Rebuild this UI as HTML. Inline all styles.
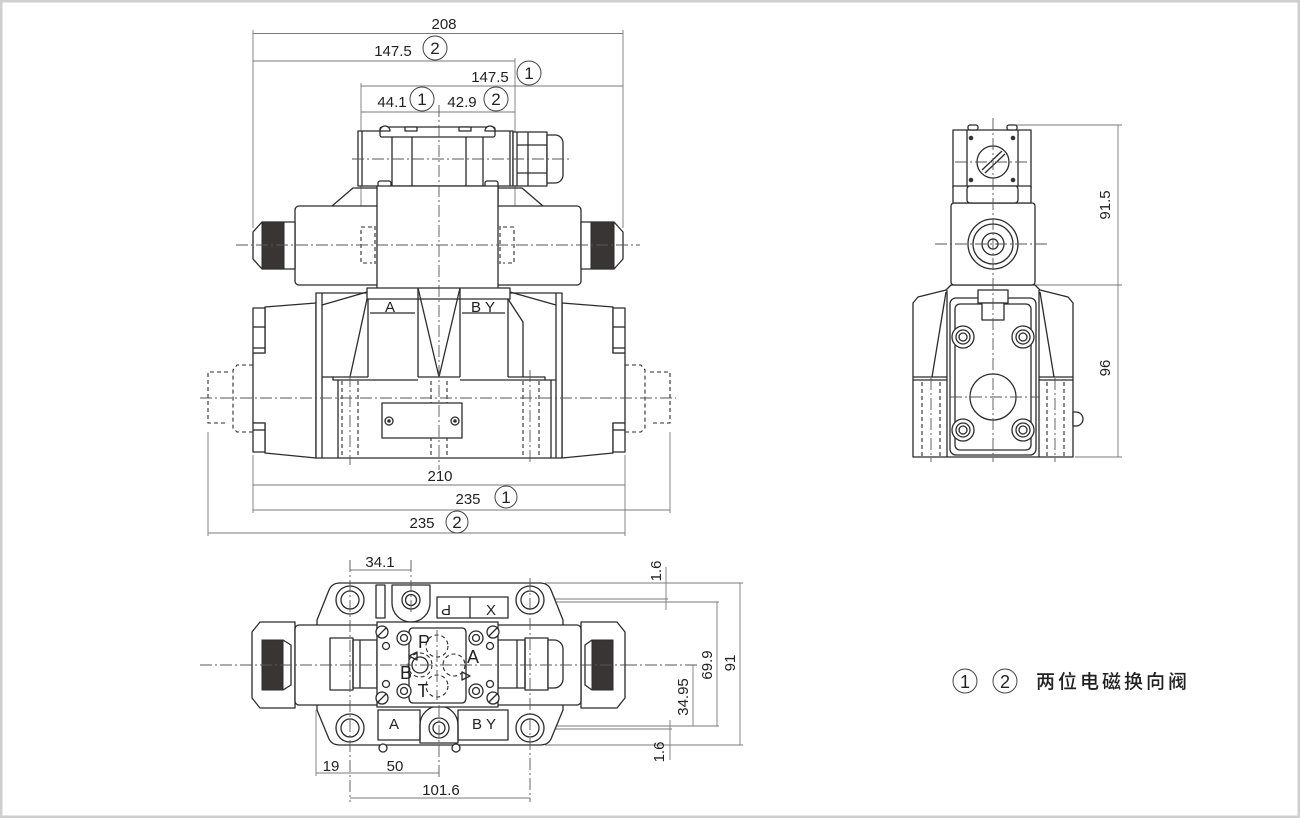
<!DOCTYPE html>
<html><head><meta charset="utf-8"><style>
html,body{margin:0;padding:0;background:#fff;}
svg{display:block;}
.o{fill:none;stroke:#2b2b2b;stroke-width:1.3;stroke-linejoin:round;}
.w{fill:#fff;stroke:#2b2b2b;stroke-width:1.3;stroke-linejoin:round;}
.d{fill:none;stroke:#7a7a7a;stroke-width:0.9;}
.c{fill:none;stroke:#555;stroke-width:0.9;stroke-dasharray:12 3 2 3;}
.h{fill:none;stroke:#2b2b2b;stroke-width:1.1;stroke-dasharray:4 3;}
.k{fill:#3a3535;stroke:#2b2b2b;stroke-width:1;}
text{font-family:"Liberation Sans",Arial,sans-serif;font-size:15px;fill:#222;}
.t{text-anchor:middle;}
.ci{fill:#fff;stroke:#444;stroke-width:1;}
.n{font-size:17px;}
</style></head><body>
<svg width="1300" height="818" viewBox="0 0 1300 818" xmlns="http://www.w3.org/2000/svg">
<rect x="1" y="1" width="1298" height="816" fill="#fff" stroke="#cfcfcf" stroke-width="3"/>

<!-- ================= TOP FRONT VIEW ================= -->
<line class="d" x1="253" y1="33.5" x2="623" y2="33.5"/>
<line class="d" x1="253" y1="61" x2="515" y2="61"/>
<line class="d" x1="361" y1="86" x2="623" y2="86"/>
<line class="d" x1="361" y1="112" x2="515" y2="112"/>
<line class="d" x1="253" y1="30" x2="253" y2="228"/>
<line class="d" x1="623" y1="30" x2="623" y2="228"/>
<line class="d" x1="361" y1="83" x2="361" y2="260"/>
<line class="d" x1="515" y1="58" x2="515" y2="262"/>
<text class="t" x="444" y="29">208</text>
<text class="t" x="393" y="56">147.5</text>
<circle class="ci" cx="435" cy="48" r="12"/><text class="t n" x="435" y="54">2</text>
<text class="t" x="490" y="82">147.5</text>
<circle class="ci" cx="529" cy="73" r="12"/><text class="t n" x="529" y="79">1</text>
<text class="t" x="392" y="107">44.1</text>
<circle class="ci" cx="422" cy="99" r="12"/><text class="t n" x="422" y="105">1</text>
<text class="t" x="462" y="107">42.9</text>
<circle class="ci" cx="496" cy="99" r="12"/><text class="t n" x="496" y="105">2</text>

<polyline class="o" points="332,206 353,188 377,188"/>
<polyline class="o" points="498,188 522,188 543,206"/>
<rect class="w" x="295" y="206" width="286" height="79" rx="4"/>
<polygon class="w" points="253,232 262,222 295,222 295,269 262,269 253,259"/>
<rect class="k" x="262" y="222" width="22" height="47"/>
<polygon class="w" points="623,232 614,222 581,222 581,269 614,269 623,259"/>
<rect class="k" x="591" y="222" width="23" height="47"/>
<path class="h" d="M372,227 h-11 v36 h11 M375,226 v38"/>
<path class="h" d="M503,227 h11 v36 h-11 M500,226 v38"/>
<rect class="w" x="358" y="131" width="155" height="55"/>
<line class="o" x1="362" y1="131" x2="362" y2="186"/>
<line class="o" x1="510" y1="131" x2="510" y2="186"/>
<rect class="w" x="513" y="132" width="34" height="54"/>
<line class="o" x1="517" y1="132" x2="517" y2="186"/>
<line class="o" x1="528" y1="132" x2="528" y2="186"/>
<line class="o" x1="517" y1="145" x2="547" y2="145"/>
<line class="o" x1="517" y1="173" x2="547" y2="173"/>
<path class="w" d="M547,135 h8 a8,8 0 0 1 8,8 v32 a8,8 0 0 1 -8,8 h-8 z"/>
<rect class="w" x="380" y="127" width="115" height="10" rx="2"/>
<path class="w" d="M380,131 a5,5 0 0 1 10,0 z"/>
<path class="w" d="M485,131 a5,5 0 0 1 10,0 z"/>
<rect class="w" x="405" y="127" width="12" height="4"/>
<rect class="w" x="459" y="127" width="12" height="4"/>
<line class="o" x1="392" y1="137" x2="392" y2="206"/>
<line class="o" x1="412" y1="137" x2="412" y2="206"/>
<line class="o" x1="466" y1="137" x2="466" y2="206"/>
<line class="o" x1="483" y1="137" x2="483" y2="206"/>
<rect class="w" x="378" y="181" width="13" height="25" rx="2"/>
<rect class="w" x="485" y="181" width="13" height="25" rx="2"/>
<rect class="w" x="377" y="186" width="121" height="103"/>

<path class="w" d="M265,307 L316,303 L316,458 L265,453 L265,423 L253,423 L253,353 L265,353 Z"/>
<path class="w" d="M253,308 h12 v45 h-12 z M253,423 h12 v29 h-12 z"/>
<line class="o" x1="253" y1="327" x2="265" y2="327"/>
<line class="o" x1="253" y1="348" x2="265" y2="348"/>
<line class="o" x1="253" y1="430" x2="265" y2="430"/>
<path class="w" d="M613,307 L562,303 L562,458 L613,453 L613,423 L625,423 L625,353 L613,353 Z"/>
<path class="w" d="M625,308 h-12 v45 h12 z M625,423 h-12 v29 h12 z"/>
<line class="o" x1="613" y1="327" x2="625" y2="327"/>
<line class="o" x1="613" y1="348" x2="625" y2="348"/>
<line class="o" x1="613" y1="430" x2="625" y2="430"/>
<rect class="w" x="316" y="293" width="246" height="165"/>
<line class="o" x1="322" y1="293" x2="322" y2="458"/>
<line class="o" x1="556" y1="293" x2="556" y2="458"/>
<line class="o" x1="322" y1="305" x2="367" y2="292"/>
<line class="o" x1="556" y1="305" x2="510" y2="292"/>
<rect class="w" x="367" y="288" width="143" height="11"/>
<line class="o" x1="367" y1="299" x2="350" y2="377"/>
<line class="o" x1="368" y1="299" x2="368" y2="377"/>
<line class="o" x1="418" y1="288" x2="418" y2="377"/>
<line class="o" x1="418" y1="288" x2="439" y2="377"/>
<line class="o" x1="460" y1="288" x2="460" y2="377"/>
<line class="o" x1="460" y1="288" x2="439" y2="377"/>
<line class="o" x1="508" y1="299" x2="508" y2="377"/>
<polyline class="o" points="508,299 523,322 523,377"/>
<polyline class="o" points="322,377 333,377 333,380 418,380"/>
<line class="o" x1="333" y1="377" x2="368" y2="377"/>
<line class="o" x1="418" y1="377" x2="460" y2="377"/>
<polyline class="o" points="508,377 545,377 545,380 556,380"/>
<line class="o" x1="460" y1="380" x2="545" y2="380"/>
<line class="o" x1="338" y1="380" x2="338" y2="458"/>
<line class="o" x1="551" y1="380" x2="551" y2="458"/>
<line class="h" x1="342" y1="381" x2="342" y2="458"/>
<line class="h" x1="358" y1="381" x2="358" y2="458"/>
<line class="h" x1="431" y1="381" x2="431" y2="458"/>
<line class="h" x1="447" y1="381" x2="447" y2="458"/>
<line class="h" x1="523" y1="381" x2="523" y2="458"/>
<line class="h" x1="539" y1="381" x2="539" y2="458"/>
<line class="c" x1="350" y1="375" x2="350" y2="465"/>
<line class="c" x1="530" y1="370" x2="530" y2="465"/>
<text class="t" x="390" y="312">A</text>
<text class="t" x="483" y="312">B Y</text>
<line class="o" x1="370" y1="313" x2="415" y2="313"/>
<line class="o" x1="462" y1="313" x2="505" y2="313"/>
<rect class="w" x="382" y="403" width="80" height="35"/>
<circle class="w" cx="389" cy="421" r="4"/><circle cx="389" cy="421" r="1.8" fill="#333"/>
<circle class="w" cx="455" cy="421" r="4"/><circle cx="455" cy="421" r="1.8" fill="#333"/>
<path class="h" d="M228,372 h-20 v51 h20"/>
<path class="h" d="M253,365 h-16 l-4,5 v58 l4,4 h16"/>
<path class="h" d="M650,372 h20 v51 h-20"/>
<path class="h" d="M625,365 h16 l4,5 v58 l-4,4 h-16"/>
<line class="c" x1="439" y1="105" x2="439" y2="470"/>
<line class="c" x1="236" y1="245" x2="640" y2="245"/>
<line class="c" x1="352" y1="159" x2="570" y2="159"/>
<line class="c" x1="200" y1="398" x2="676" y2="398"/>
<line class="d" x1="253" y1="455" x2="253" y2="513"/>
<line class="d" x1="625" y1="455" x2="625" y2="536"/>
<line class="d" x1="670" y1="432" x2="670" y2="513"/>
<line class="d" x1="208" y1="432" x2="208" y2="536"/>
<line class="d" x1="253" y1="485" x2="625" y2="485"/>
<line class="d" x1="253" y1="510" x2="670" y2="510"/>
<line class="d" x1="208" y1="533" x2="625" y2="533"/>
<text class="t" x="440" y="481">210</text>
<text class="t" x="468" y="504">235</text>
<circle class="ci" cx="506" cy="497" r="11"/><text class="t n" x="506" y="503">1</text>
<text class="t" x="422" y="528">235</text>
<circle class="ci" cx="457" cy="522" r="11"/><text class="t n" x="457" y="528">2</text>

<!-- ================= RIGHT SIDE VIEW ================= -->
<line class="d" x1="1015" y1="125" x2="1122" y2="125"/>
<line class="d" x1="1035" y1="285" x2="1122" y2="285"/>
<line class="d" x1="1075" y1="457" x2="1122" y2="457"/>
<line class="d" x1="1118" y1="125" x2="1118" y2="457"/>
<text class="t" transform="translate(1110,205) rotate(-90)">91.5</text>
<text class="t" transform="translate(1110,368) rotate(-90)">96</text>

<path class="w" d="M913,457 V303 L918,297 L946,290 L951,285 H1035 L1040,290 L1068,297 L1073,303 V457 Z"/>
<line class="o" x1="946" y1="292" x2="932" y2="377"/>
<line class="o" x1="1040" y1="292" x2="1054" y2="377"/>
<line class="o" x1="913" y1="377" x2="947" y2="377"/>
<line class="o" x1="1039" y1="377" x2="1073" y2="377"/>
<line class="o" x1="913" y1="380" x2="947" y2="380"/>
<line class="o" x1="1039" y1="380" x2="1073" y2="380"/>
<line class="h" x1="922" y1="382" x2="922" y2="457"/>
<line class="h" x1="940" y1="382" x2="940" y2="457"/>
<line class="h" x1="1047" y1="382" x2="1047" y2="457"/>
<line class="h" x1="1064" y1="382" x2="1064" y2="457"/>
<line class="c" x1="931" y1="378" x2="931" y2="462"/>
<line class="c" x1="1055" y1="378" x2="1055" y2="462"/>
<line class="o" x1="947" y1="290" x2="947" y2="457"/>
<line class="o" x1="1039" y1="290" x2="1039" y2="457"/>
<rect class="w" x="950" y="298" width="86" height="157" rx="6"/>
<rect class="o" x="955" y="304" width="76" height="146" rx="5"/>
<rect class="w" x="978" y="290" width="30" height="13"/>
<rect class="w" x="982" y="303" width="22" height="17"/>
<path class="w" d="M1073,412 h3 a6,6 0 0 1 0,14 h-3 z"/>
<circle class="w" cx="963" cy="337" r="11"/><circle class="o" cx="963" cy="337" r="7"/><circle class="o" cx="963" cy="337" r="4"/>
<circle class="w" cx="1023" cy="337" r="11"/><circle class="o" cx="1023" cy="337" r="7"/><circle class="o" cx="1023" cy="337" r="4"/>
<circle class="w" cx="963" cy="430" r="11"/><circle class="o" cx="963" cy="430" r="7"/><circle class="o" cx="963" cy="430" r="4"/>
<circle class="w" cx="1023" cy="430" r="11"/><circle class="o" cx="1023" cy="430" r="7"/><circle class="o" cx="1023" cy="430" r="4"/>
<circle class="w" cx="993" cy="397" r="23"/>
<rect class="w" x="951" y="203" width="84" height="82" rx="3"/>
<circle class="o" cx="993" cy="244" r="25"/>
<circle class="o" cx="993" cy="244" r="20"/>
<circle class="o" cx="993" cy="244" r="11"/>
<circle class="o" cx="993" cy="244" r="5"/>
<rect class="w" x="953" y="130" width="78" height="58"/>
<line class="o" x1="967" y1="130" x2="967" y2="188"/>
<line class="o" x1="1018" y1="130" x2="1018" y2="188"/>
<rect class="w" x="953" y="186" width="78" height="17"/>
<rect class="w" x="967" y="186" width="51" height="17" rx="3"/>
<rect class="w" x="968" y="125" width="10" height="5" rx="2"/>
<rect class="w" x="1007" y="125" width="10" height="5" rx="2"/>
<circle class="w" cx="993" cy="162" r="16"/>
<line class="o" x1="982" y1="170" x2="1002" y2="151"/>
<line class="o" x1="985" y1="173" x2="1005" y2="154"/>
<circle cx="971" cy="138" r="2.3" fill="#333"/><circle cx="1013" cy="138" r="2.3" fill="#333"/>
<circle cx="971" cy="180" r="2.3" fill="#333"/><circle cx="1013" cy="180" r="2.3" fill="#333"/>
<line class="c" x1="993" y1="118" x2="993" y2="462"/>
<line class="c" x1="935" y1="244" x2="1050" y2="244"/>
<line class="c" x1="955" y1="162" x2="1030" y2="162"/>
<line class="c" x1="950" y1="397" x2="1040" y2="397"/>

<!-- ================= BOTTOM VIEW ================= -->
<line class="d" x1="350" y1="570" x2="411" y2="570"/>
<text class="t" x="380" y="567">34.1</text>
<line class="d" x1="545" y1="583" x2="743" y2="583"/>
<line class="d" x1="545" y1="599" x2="668" y2="599"/>
<line class="d" x1="545" y1="602" x2="719" y2="602"/>
<line class="d" x1="545" y1="726" x2="719" y2="726"/>
<line class="d" x1="545" y1="729" x2="672" y2="729"/>
<line class="d" x1="545" y1="745" x2="743" y2="745"/>
<line class="d" x1="740" y1="583" x2="740" y2="745"/>
<line class="d" x1="717" y1="602" x2="717" y2="726"/>
<line class="d" x1="693" y1="665" x2="693" y2="726"/>
<line class="d" x1="666" y1="567" x2="666" y2="610"/>
<line class="d" x1="670" y1="720" x2="670" y2="760"/>
<line class="c" x1="625" y1="665" x2="697" y2="665"/>
<text class="t" transform="translate(661,571) rotate(-90)">1.6</text>
<text class="t" transform="translate(712,665) rotate(-90)">69.9</text>
<text class="t" transform="translate(735,663) rotate(-90)">91</text>
<text class="t" transform="translate(688,697) rotate(-90)">34.95</text>
<text class="t" transform="translate(664,752) rotate(-90)">1.6</text>

<path class="w" d="M340,583 H540 Q548,583 551,590 L563,620 V710 L551,739 Q548,745 540,745 H340 Q332,745 329,739 L317,710 V620 L329,590 Q332,583 340,583 Z"/>
<polygon class="w" points="252,632 260,622 295,622 295,708 260,708 252,698"/>
<rect class="k" x="262" y="640" width="21" height="50"/>
<polyline class="o" points="283,640 291,645 291,685 283,690"/>
<polygon class="w" points="625,632 617,622 581,622 581,708 617,708 625,698"/>
<rect class="k" x="592" y="640" width="21" height="50"/>
<polyline class="o" points="592,640 585,645 585,685 592,690"/>
<rect class="w" x="295" y="625" width="286" height="80" rx="4"/>
<rect class="w" x="330" y="638" width="23" height="52"/>
<rect class="o" x="353" y="640" width="24" height="48"/>
<line class="o" x1="360" y1="640" x2="360" y2="688"/>
<rect class="w" x="525" y="638" width="23" height="52"/>
<path class="w" d="M548,640 h6 a9,9 0 0 1 9,9 v30 a9,9 0 0 1 -9,9 h-6 z"/>
<rect class="o" x="498" y="640" width="27" height="48"/>
<line class="o" x1="517" y1="640" x2="517" y2="688"/>
<rect class="o" x="376" y="585" width="9" height="33"/>
<path class="w" d="M392,585 h38 v18 a19,19 0 0 1 -38,0 z"/>
<rect class="o" x="437" y="597" width="71" height="21"/>
<line class="o" x1="470" y1="597" x2="470" y2="618"/>
<path class="w" d="M420,743 h38 v-18 a19,19 0 0 0 -38,0 z"/>
<rect class="o" x="378" y="710" width="42" height="30"/>
<rect class="o" x="458" y="710" width="50" height="30"/>
<circle class="w" cx="383" cy="748" r="4"/><circle class="w" cx="456" cy="748" r="4"/>
<circle class="w" cx="350" cy="600" r="14"/><circle class="o" cx="350" cy="600" r="9"/>
<circle class="w" cx="530" cy="600" r="14"/><circle class="o" cx="530" cy="600" r="9"/>
<circle class="w" cx="350" cy="728" r="14"/><circle class="o" cx="350" cy="728" r="9"/>
<circle class="w" cx="530" cy="728" r="14"/><circle class="o" cx="530" cy="728" r="9"/>
<circle class="w" cx="411" cy="600" r="9"/><circle class="o" cx="411" cy="600" r="5.5"/>
<circle class="w" cx="439" cy="728" r="10"/><circle class="o" cx="439" cy="728" r="6"/>
<rect class="w" x="377" y="622" width="121" height="85"/>
<path class="o" d="M413,628 H462 Q466,628 466,633 V697 Q466,703 462,703 H413 Q409,703 409,697 V633 Q409,628 413,628 Z"/>
<circle class="w" cx="382" cy="632" r="6"/><line class="o" x1="378" y1="636" x2="386" y2="628"/>
<circle class="w" cx="493" cy="632" r="6"/><line class="o" x1="489" y1="636" x2="497" y2="628"/>
<circle class="w" cx="382" cy="698" r="6"/><line class="o" x1="378" y1="702" x2="386" y2="694"/>
<circle class="w" cx="493" cy="698" r="6"/><line class="o" x1="489" y1="702" x2="497" y2="694"/>
<circle class="w" cx="386" cy="646" r="3.5"/><circle class="w" cx="490" cy="646" r="3.5"/>
<circle class="w" cx="386" cy="684" r="3.5"/><circle class="w" cx="490" cy="684" r="3.5"/>
<circle class="w" cx="404" cy="638" r="7"/><circle class="o" cx="404" cy="638" r="3.5"/>
<circle class="w" cx="476" cy="638" r="7"/><circle class="o" cx="476" cy="638" r="3.5"/>
<circle class="w" cx="404" cy="691" r="7"/><circle class="o" cx="404" cy="691" r="3.5"/>
<circle class="w" cx="476" cy="691" r="7"/><circle class="o" cx="476" cy="691" r="3.5"/>
<circle class="h" cx="437" cy="646" r="11"/>
<circle class="h" cx="454" cy="665" r="11"/>
<circle class="h" cx="437" cy="686" r="11"/>
<circle class="h" cx="420" cy="665" r="12"/>
<circle class="o" cx="420" cy="665" r="8"/>
<text class="t" x="424" y="648" style="font-size:18px">P</text>
<text class="t" x="473" y="663" style="font-size:18px">A</text>
<text class="t" x="406" y="679" style="font-size:18px">B</text>
<text class="t" x="423" y="697" style="font-size:18px">T</text>
<polygon class="o" points="409,656 417,652 417,660"/>
<polygon class="o" points="470,676 462,672 462,680"/>
<text class="t" transform="translate(446,605) rotate(180)">P</text>
<text class="t" x="491" y="615">X</text>
<text class="t" x="394" y="729">A</text>
<text class="t" x="484" y="729">B Y</text>
<line class="c" x1="200" y1="665" x2="625" y2="665"/>
<line class="c" x1="350" y1="560" x2="350" y2="802"/>
<line class="c" x1="411" y1="560" x2="411" y2="615"/>
<line class="c" x1="439" y1="705" x2="439" y2="777"/>
<line class="c" x1="530" y1="578" x2="530" y2="802"/>
<line class="c" x1="437" y1="630" x2="437" y2="700"/>
<line class="d" x1="316" y1="710" x2="316" y2="776"/>
<line class="d" x1="316" y1="773" x2="439" y2="773"/>
<line class="d" x1="350" y1="798" x2="530" y2="798"/>
<text class="t" x="331" y="771">19</text>
<text class="t" x="395" y="771">50</text>
<text class="t" x="441" y="795">101.6</text>

<circle class="ci" cx="965" cy="681" r="12"/><text class="t" x="965" y="688" style="font-size:18px">1</text>
<circle class="ci" cx="1005" cy="681" r="12"/><text class="t" x="1005" y="688" style="font-size:18px">2</text>
<text x="1036" y="688" style="font-family:'Liberation Sans','Noto Sans CJK SC',sans-serif;font-size:19px;letter-spacing:3px;font-weight:500">两位电磁换向阀</text>
</svg>
</body></html>
